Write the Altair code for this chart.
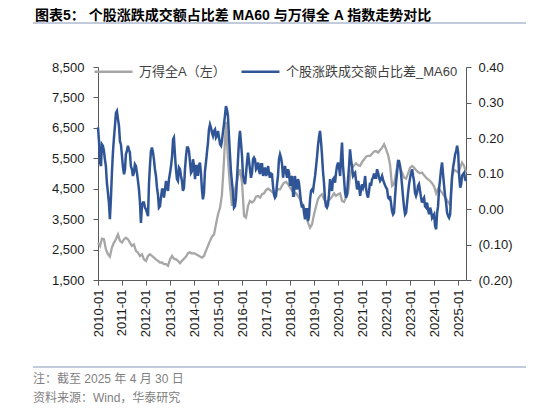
import altair as alt
import pandas as pd

# ---------------- data ----------------
month_starts = list(pd.date_range("2010-01-01", "2025-04-01", freq="MS").strftime("%Y-%m"))
END_DATE = "2025-04-30"

# 万得全A, value at the start of each month (+ last day)
wind_a = [
    2730, 2620, 2860, 2840, 2510, 2350, 2270, 2570, 2730, 2840,
    3000, 2785, 2730, 2840, 2890, 2840, 2730, 2620, 2670, 2455,
    2400, 2290, 2345, 2180, 2130, 2290, 2345, 2290, 2235, 2180,
    2130, 2075, 2075, 2020, 2020, 1965, 2180, 2290, 2200, 2180,
    2130, 2050, 2130, 2200, 2270, 2380, 2410, 2370, 2380, 2345,
    2310, 2270, 2235, 2290, 2455, 2620, 2785, 2925, 3000, 3330,
    3660, 3880, 4300, 5400, 6700, 5467, 4591, 3934, 4372, 4591,
    4920, 5138, 4701, 3606, 3550, 3934, 4100, 4044, 4100, 4240,
    4263, 4208, 4318, 4350, 4460, 4500, 4460, 4395, 4350, 4427,
    4482, 4480, 4600, 4700, 4723, 4646, 4536, 4427, 4372, 4350,
    4263, 4153, 4022, 3880, 3715, 3387, 3222, 3332, 3660, 3934,
    4153, 4263, 4318, 4153, 4066, 4100, 4153, 4240, 4350, 4263,
    4318, 4350, 4100, 4066, 4208, 4372, 4920, 5193, 5270, 5335,
    5270, 5248, 5380, 5467, 5554, 5576, 5576, 5650, 5720, 5740,
    5686, 5773, 5850, 5960, 5795, 5598, 5303, 4591, 4646, 5029,
    5357, 5193, 5029, 4865, 4832, 5007, 5193, 5248, 5193, 5116,
    5050, 5007, 5029, 4942, 4865, 4810, 4755, 4680, 4570, 4350,
    4500, 4450, 4372, 4263, 4175, 4066, 3956, 4920, 5116, 5083,
    5029, 5193, 5357, 5248, 5029,
]

# 个股涨跌成交额占比差_MA60, value on the 1st of each month (+ last day)
diff_day1 = [
    0.230, 0.131, 0.182, 0.164, 0.121, 0.046, -0.029, 0.102, 0.201, 0.271,
    0.253, 0.191, 0.149, 0.098, 0.154, 0.178, 0.159, 0.112, 0.102, 0.121,
    0.079, 0.020, 0.010, 0.018, -0.001, -0.020, 0.121, 0.173, 0.140, 0.093,
    0.041, 0.008, 0.055, 0.032, 0.079, 0.051, 0.102, 0.149, 0.201, 0.112,
    0.079, 0.112, 0.079, 0.060, 0.149, 0.173, 0.131, 0.107, 0.121, 0.121,
    0.093, 0.131, 0.055, 0.046, 0.131, 0.187, 0.238, 0.215, 0.220, 0.201,
    0.220, 0.182, 0.191, 0.238, 0.290, 0.262, 0.154, 0.074, 0.004, 0.032,
    0.140, 0.220, 0.149, 0.079, 0.098, 0.159, 0.112, 0.102, 0.145, 0.112,
    0.131, 0.098, 0.126, 0.107, 0.093, 0.121, 0.088, 0.098, 0.041, 0.037,
    0.093, 0.154, 0.126, 0.110, 0.102, 0.112, 0.065, 0.093, 0.037, 0.065,
    0.084, 0.046, 0.004, -0.010, -0.001, -0.034, 0.027, 0.055, 0.074, 0.121,
    0.178, 0.220, 0.154, 0.074, 0.008, 0.013, 0.084, 0.051, 0.088, 0.102,
    0.131, 0.093, 0.187, 0.084, 0.032, 0.084, 0.168, 0.117, 0.098, 0.079,
    0.079, 0.037, 0.070, 0.070, 0.060, 0.032, 0.074, 0.084, 0.100, 0.088,
    0.102, 0.079, 0.093, 0.074, 0.060, 0.032, 0.037, -0.006, -0.010, 0.074,
    0.135, 0.121, 0.065, 0.004, -0.010, 0.046, 0.088, 0.112, 0.079, 0.037,
    0.065, 0.051, 0.018, 0.032, 0.004, -0.001, 0.004, -0.025, -0.015, -0.057,
    0.008, 0.084, 0.131, 0.065, 0.018, -0.020, -0.015, 0.093, 0.135, 0.163,
    0.159, 0.060, 0.093, 0.102, 0.079,
]

# 个股涨跌成交额占比差_MA60, value on the 16th of each month
diff_day16 = [
    0.191, 0.121, 0.178, 0.140, 0.074, 0.018, 0.027, 0.159, 0.234, 0.276,
    0.234, 0.182, 0.117, 0.112, 0.163, 0.168, 0.121, 0.093, 0.126, 0.102,
    0.055, -0.039, 0.018, 0.004, -0.010, 0.074, 0.163, 0.160, 0.112, 0.060,
    0.004, 0.032, 0.055, 0.055, 0.060, 0.084, 0.121, 0.196, 0.154, 0.084,
    0.117, 0.093, 0.051, 0.112, 0.173, 0.163, 0.102, 0.140, 0.084, 0.121,
    0.121, 0.102, 0.027, 0.107, 0.159, 0.224, 0.229, 0.206, 0.224, 0.206,
    0.201, 0.178, 0.215, 0.262, 0.281, 0.206, 0.107, 0.046, 0.008, 0.084,
    0.191, 0.187, 0.093, 0.070, 0.131, 0.135, 0.088, 0.140, 0.140, 0.117,
    0.107, 0.126, 0.093, 0.117, 0.102, 0.098, 0.100, 0.065, 0.032, 0.070,
    0.140, 0.145, 0.088, 0.121, 0.088, 0.102, 0.084, 0.037, 0.093, 0.055,
    0.074, 0.018, 0.013, -0.029, -0.001, -0.020, 0.051, 0.051, 0.093, 0.149,
    0.201, 0.191, 0.107, 0.027, 0.004, 0.041, 0.060, 0.084, 0.074, 0.121,
    0.117, 0.149, 0.121, 0.046, 0.041, 0.121, 0.140, 0.093, 0.102, 0.055,
    0.065, 0.055, 0.060, 0.093, 0.041, 0.051, 0.065, 0.088, 0.088, 0.112,
    0.088, 0.084, 0.082, 0.067, 0.055, 0.029, 0.018, -0.015, 0.032, 0.102,
    0.135, 0.098, 0.032, -0.015, 0.018, 0.070, 0.102, 0.093, 0.046, 0.046,
    0.070, 0.032, 0.027, 0.008, 0.018, -0.015, -0.006, -0.020, -0.048, -0.010,
    0.055, 0.112, 0.098, 0.037, -0.010, -0.025, 0.046, 0.117, 0.154, 0.178,
    0.093, 0.070, 0.098, 0.084,
]

year_ticks = list(range(2010, 2026))
left_ticks = [1500, 2500, 3500, 4500, 5500, 6500, 7500, 8500]
right_ticks = [-0.2, -0.1, 0.0, 0.1, 0.2, 0.3, 0.4]

GRAY_LABEL = "万得全A（左）"
BLUE_LABEL = "个股涨跌成交额占比差_MA60"
TITLE = "图表5：  个股涨跌成交额占比差 MA60 与万得全 A 指数走势对比"
NOTE1 = "注：截至 2025 年 4 月 30 日"
NOTE2 = "资料来源：Wind，华泰研究"

# ---------------- tables ----------------
gray_df = pd.DataFrame({
    "date": [m + "-01" for m in month_starts] + [END_DATE],
    "wind": wind_a,
    "series": GRAY_LABEL,
})

blue_dates, blue_vals = [], []
for i, m in enumerate(month_starts):
    blue_dates += [m + "-01", m + "-16"]
    blue_vals += [diff_day1[i], diff_day16[i]]
blue_dates.append(END_DATE)
blue_vals.append(diff_day1[-1])
blue_df = pd.DataFrame({"date": blue_dates, "diff": blue_vals, "series": BLUE_LABEL})

FONT = "Liberation Sans, Noto Sans CJK SC, sans-serif"
GRAY = "#A6A6A6"
BLUE = "#2F5597"

color_scale = alt.Scale(domain=[GRAY_LABEL, BLUE_LABEL], range=[GRAY, BLUE])
legend = alt.Legend(
    title=None, orient="none", legendX=-5, legendY=-16, direction="horizontal",
    symbolType="stroke", symbolSize=1444, symbolStrokeWidth=2.5,
    labelFont=FONT, labelFontSize=13, labelColor="#404040", labelLimit=400,
    columnPadding=10, labelOffset=5, padding=0,
)
color_enc = alt.Color("series:N", scale=color_scale, legend=legend)

x_enc = alt.X(
    "date:T",
    title=None,
    scale=alt.Scale(
        domain=[alt.DateTime(year=2010, month=1, date=1), alt.DateTime(year=2025, month=4, date=30)],
        nice=False,
    ),
    axis=alt.Axis(
        values=[alt.DateTime(year=y, month=1, date=1) for y in year_ticks],
        format="%Y-%m", labelAngle=270, labelPadding=4, tickSize=5,
    ),
)

gray = alt.Chart(gray_df).mark_line(strokeWidth=2.3).encode(
    x=x_enc,
    y=alt.Y(
        "wind:Q", title=None,
        scale=alt.Scale(domain=[1500, 8500], nice=False, zero=False),
        axis=alt.Axis(orient="left", values=left_ticks, format=",.0f", labelPadding=9, tickSize=5),
    ),
    color=color_enc,
)

blue = alt.Chart(blue_df).mark_line(strokeWidth=2.5).encode(
    x=x_enc,
    y=alt.Y(
        "diff:Q", title=None,
        scale=alt.Scale(domain=[-0.2, 0.4], nice=False, zero=False),
        axis=alt.Axis(
            orient="right", values=right_ticks, labelPadding=7, tickSize=5,
            labelExpr="datum.value < -0.0001 ? '(' + format(-datum.value, '.2f') + ')' : format(datum.value, '.2f')",
        ),
    ),
    color=color_enc,
)

title_df = pd.DataFrame({"t": [TITLE]})
note1_df = pd.DataFrame({"t": [NOTE1]})
note2_df = pd.DataFrame({"t": [NOTE2]})

title_mark = alt.Chart(title_df).mark_text(
    align="left", baseline="middle", font=FONT, fontSize=14, fontWeight="bold", color="#000000"
).encode(text="t:N", x=alt.value(-63), y=alt.value(-51.5))

note1_mark = alt.Chart(note1_df).mark_text(
    align="left", baseline="middle", font=FONT, fontSize=12, color="#7F7F7F"
).encode(text="t:N", x=alt.value(-65), y=alt.value(312))

note2_mark = alt.Chart(note2_df).mark_text(
    align="left", baseline="middle", font=FONT, fontSize=12, color="#7F7F7F"
).encode(text="t:N", x=alt.value(-65), y=alt.value(331))

top_rule = alt.Chart(title_df).mark_rule(color="#8497B8", strokeWidth=1).encode(
    x=alt.value(-65), x2=alt.value(428), y=alt.value(-44)
)
bottom_rule = alt.Chart(title_df).mark_rule(color="#8497B8", strokeWidth=1).encode(
    x=alt.value(-65), x2=alt.value(428), y=alt.value(300)
)

chart = alt.layer(
    gray, blue, title_mark, note1_mark, note2_mark, top_rule, bottom_rule
).resolve_scale(
    y="independent"
).properties(
    width=368, height=213,
    autosize=alt.AutoSizeParams(type="none"),
    padding={"left": 90, "top": 59, "right": 60, "bottom": 124},
).configure_axis(
    grid=False, domainColor="#595959", tickColor="#595959",
    labelColor="#1A1A1A", labelFont="Liberation Sans", labelFontSize=13,
).configure_view(stroke=None)

chart.save("out.html", embed_options={"renderer": "svg", "actions": False})
